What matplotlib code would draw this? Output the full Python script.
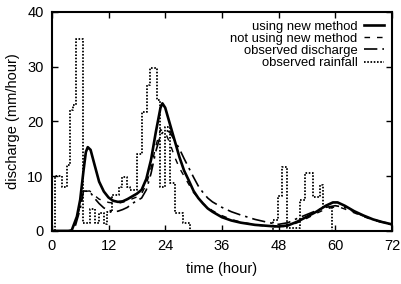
import numpy as np
import matplotlib
matplotlib.use("Agg")
import matplotlib.pyplot as plt

# rainfall step edges (hour) and intensity (mm/hour)
rain_t = [0, 0.7, 2.1, 3.2, 3.8, 4.4, 5.1, 6.5, 8.0, 9.1, 10.0, 11.0, 11.7,
          12.7, 14.2, 14.8, 15.9, 16.5, 18.0, 19.0, 20.1, 20.8, 22.2, 22.9,
          24.0, 25.0, 26.0, 27.7, 29.2, 46.8, 47.9, 48.7, 49.8, 52.5, 53.6,
          55.3, 56.7, 57.4, 59.3, 72]
rain_v = [0, 10, 8, 12, 22, 23, 35, 1.5, 4, 1.5, 3.3, 1.3, 3.5,
          6.5, 8, 9.9, 8, 7.5, 14, 21.7, 26.6, 29.8, 24, 8,
          19, 8.8, 3.3, 1.4, 0, 2, 6.3, 11.7, 0.5, 5.7, 10.6,
          6.2, 8.4, 4.4, 0, 0]

# discharge, using new method
new_t = [0, 3.5, 4.2, 5.3, 6.0, 6.7, 7.2, 7.6, 8.2, 9, 10, 11, 12, 13, 14,
         15, 16, 17, 18, 19, 20, 21, 22, 23, 23.4, 24, 25, 26, 27, 28, 29,
         30, 31, 32, 33, 34, 36, 38, 40, 43, 46, 48, 50, 52, 54, 56, 58,
         59.5, 60.5, 62, 64, 66, 68, 70, 72]
new_v = [0, 0, 0.1, 2.6, 5.7, 11, 14.4, 15.3, 14.8, 12.2, 9.0, 7.2, 6.1,
         5.5, 5.3, 5.4, 5.8, 6.3, 6.8, 7.5, 9.5, 13, 18, 22.5, 23.3, 22.5,
         19.5, 16.5, 13.5, 11, 9.2, 7.3, 6, 5, 4.1, 3.5, 2.5, 1.9, 1.5, 1.1,
         0.9, 0.8, 1.0, 1.7, 2.6, 3.5, 4.6, 5.2, 5.2, 4.6, 3.6, 2.8, 2.1,
         1.6, 1.2]

# discharge, not using new method
old_t = [0, 4, 5, 6, 6.8, 8, 9, 10, 12, 14, 16, 18, 19, 20, 21, 22, 23, 24,
         25, 26, 27, 28, 30, 32, 34, 36, 38, 40, 44, 48, 50, 52, 54, 56, 58,
         59.5, 61, 62, 64, 66, 68, 70, 72]
old_v = [0, 0, 1.5, 4.5, 7.2, 7.3, 6.5, 5.8, 5.2, 5.0, 5.5, 6.2, 6.8, 8.5,
         11.5, 15.5, 18.5, 18, 16, 13.5, 11.5, 10, 7, 5, 3.7, 2.8, 2.1, 1.6,
         1.0, 0.7, 0.9, 1.5, 2.3, 3.2, 4.0, 4.3, 4.3, 4.0, 3.3, 2.6, 2.0,
         1.5, 1.1]

# observed discharge
obs_t = [0, 4, 5, 6, 6.7, 8, 9, 10, 11, 12, 13, 14, 15, 16, 17, 18, 19, 20,
         21, 22, 23, 24, 25, 26, 27, 28, 29, 30, 31, 32, 33, 34, 36, 38, 40,
         43, 46, 48, 50, 52, 54, 56, 58, 60, 62, 64, 66, 68, 70, 72]
obs_v = [0, 0, 1, 4, 7.3, 7.2, 6, 5, 4.2, 3.8, 3.5, 3.6, 3.9, 4.3, 5, 5.5,
         6, 7.5, 10.5, 14.5, 17.5, 18.5, 18, 16.5, 15, 13.2, 11.5, 9.8, 8.2,
         7, 6, 5.3, 4.3, 3.5, 2.9, 2.1, 1.5, 1.2, 1.5, 2.3, 3.0, 3.7, 4.3,
         4.6, 4.3, 3.5, 2.7, 2.1, 1.6, 1.3]

plt.rcParams["font.family"] = ["Liberation Sans", "DejaVu Sans"]

fig = plt.figure(figsize=(4.02, 2.84), dpi=100)
ax = fig.add_axes([0.129, 0.187, 0.846, 0.771])

ax.plot(new_t, new_v, color="black", lw=1.9, label="using new method")
ax.plot(old_t, old_v, color="black", lw=1.0, linestyle=(0, (4, 5)),
        label="not using new method")
ax.plot(obs_t, obs_v, color="black", lw=1.2, linestyle=(0, (8, 3, 1.5, 3)),
        label="observed discharge")
ax.step(rain_t, rain_v, where="post", color="black", lw=1.3,
        linestyle=(0, (0.9, 0.9)), label="observed rainfall")

ax.set_xlim(0, 72)
ax.set_ylim(0, 40)
ax.set_xticks(np.arange(0, 73, 12))
ax.set_yticks(np.arange(0, 41, 10))
ax.tick_params(direction="in", length=4, width=1, labelsize=10.5,
               top=True, right=True, pad=6)
for s in ax.spines.values():
    s.set_linewidth(1.5)

ax.set_xlabel("time (hour)", fontsize=10.5, labelpad=6)
ax.set_ylabel("discharge (mm/hour)", fontsize=10.5, labelpad=5)

leg = ax.legend(loc="upper right", frameon=False, markerfirst=False,
                fontsize=9.4, handlelength=1.5, labelspacing=0.0,
                borderaxespad=0.1, handletextpad=0.5,
                bbox_to_anchor=(0.995, 0.99))
for t in leg.get_texts():
    t.set_ha("right")
leg._legend_box.align = "right"

fig.savefig("out.png", dpi=100)
